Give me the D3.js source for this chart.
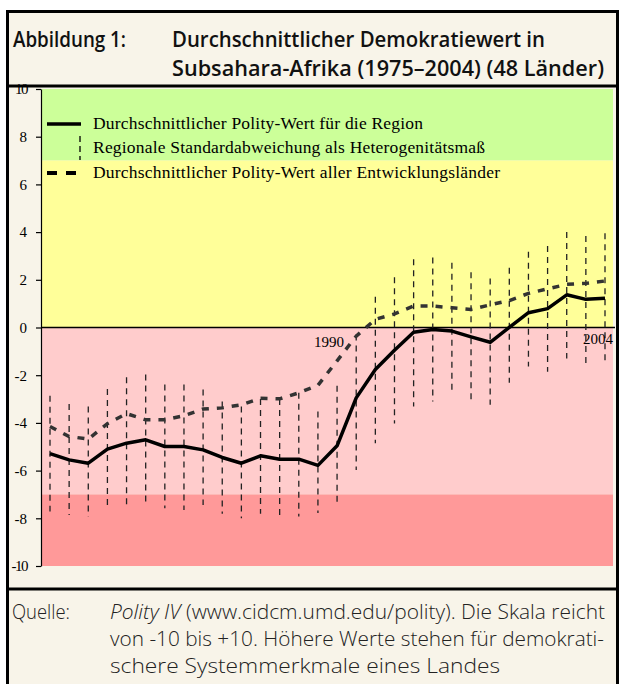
<!DOCTYPE html>
<html>
<head>
<meta charset="utf-8">
<script src="https://cdn.jsdelivr.net/npm/d3@7/dist/d3.min.js"></script>
<style>
  body { margin: 0; background: #fff; }
  svg { display: block; }
</style>
</head>
<body>
<div id="chart"></div>
<script>
// years 1975 - 2004
var years = d3.range(1975, 2005);

// average polity score, sub-saharan africa (solid line)
var regionAvg = [-5.29, -5.55, -5.69, -5.10, -4.85, -4.71, -4.99, -4.99, -5.13, -5.45,
  -5.69, -5.38, -5.52, -5.52, -5.78, -4.96, -2.95, -1.76, -0.95, -0.20,
  -0.08, -0.15, -0.39, -0.62, 0.01, 0.62, 0.79, 1.37, 1.18, 1.23];

// average polity score, all developing countries (dashed line)
var devAvg = [-4.15, -4.57, -4.68, -4.03, -3.61, -3.87, -3.87, -3.70, -3.42, -3.37,
  -3.24, -2.97, -2.99, -2.74, -2.42, -1.40, -0.36, 0.34, 0.57, 0.90,
  0.90, 0.83, 0.76, 0.95, 1.13, 1.43, 1.62, 1.81, 1.85, 1.95];

// std deviation whiskers, upper and lower ends
var sdTop = [-2.86, -3.21, -3.31, -2.58, -2.09, -1.97, -2.39, -2.39, -2.60, -3.10,
  -3.31, -3.00, -3.00, -2.74, -3.52, -2.44, -0.29, 1.29, 2.11, 2.86,
  2.93, 2.72, 2.32, 2.05, 2.51, 3.18, 3.42, 4.00, 3.84, 3.95];
var sdBottom = [-7.72, -7.86, -7.93, -7.46, -7.61, -7.46, -7.58, -7.65, -7.44, -7.81,
  -8.00, -7.81, -7.92, -7.92, -7.78, -7.34, -5.97, -4.85, -4.03, -3.31,
  -3.10, -2.77, -3.16, -3.24, -2.32, -1.63, -1.86, -1.30, -1.58, -1.46];

// background bands
var bands = [
  { from: 7, to: 10, color: '#ccff99' },
  { from: 0, to: 7, color: '#ffff99' },
  { from: -7, to: 0, color: '#ffcccc' },
  { from: -10, to: -7, color: '#ff9999' }
];
var yTicks = [-10, -8, -6, -4, -2, 0, 2, 4, 6, 8, 10];

var legendItems = [
  'Durchschnittlicher Polity-Wert für die Region',
  'Regionale Standardabweichung als Heterogenitätsmaß',
  'Durchschnittlicher Polity-Wert aller Entwicklungsländer'
];

var width = 621, height = 684;
var bg = '#f8f4e9';
var serif = '"Liberation Serif", "Times New Roman", serif';
var sans = '"Open Sans", "Noto Sans", sans-serif';

var svg = d3.select('#chart')
  .append('svg')
  .attr('width', width)
  .attr('height', height);

svg.append('rect')
  .attr('width', width).attr('height', height)
  .attr('fill', '#fff');

svg.append('rect')
  .attr('x', 6).attr('y', 10)
  .attr('width', 612).attr('height', 690)
  .attr('fill', bg);

var x = d3.scaleLinear().domain([1975, 2004]).range([50, 605]);
var y = d3.scaleLinear().domain([-10, 10]).range([566, 89]);
var plotLeft = 41, plotRight = 613;

// bands
svg.selectAll('.band')
  .data(bands)
  .enter()
  .append('rect')
  .attr('class', 'band')
  .attr('x', plotLeft)
  .attr('width', plotRight - plotLeft)
  .attr('y', function(d) { return y(d.to); })
  .attr('height', function(d) { return y(d.from) - y(d.to); })
  .attr('fill', function(d) { return d.color; });

// zero line
svg.append('line')
  .attr('x1', plotLeft).attr('x2', 615)
  .attr('y1', y(0)).attr('y2', y(0))
  .attr('stroke', '#000').attr('stroke-width', 1.5);

// y axis
var yAxis = d3.axisLeft(y)
  .tickValues(yTicks)
  .tickFormat(function(d) { return String(d); })
  .tickSize(5)
  .tickSizeOuter(0)
  .tickPadding(9);

var gy = svg.append('g')
  .attr('transform', 'translate(' + plotLeft + ',0)')
  .call(yAxis);
gy.select('.domain').attr('stroke', '#000').attr('stroke-width', 1.2);
gy.selectAll('.tick line').attr('stroke', '#000').attr('stroke-width', 1.2);
gy.selectAll('.tick text')
  .attr('font-family', serif)
  .attr('font-size', 15)
  .attr('fill', '#000')
  .attr('letter-spacing', function(d) { return Math.abs(d) == 10 ? -1.5 : 0; });

// std deviation whiskers
svg.selectAll('.whisker')
  .data(years)
  .enter()
  .append('line')
  .attr('class', 'whisker')
  .attr('x1', function(d) { return x(d); })
  .attr('x2', function(d) { return x(d); })
  .attr('y1', function(d, i) { return y(sdTop[i]); })
  .attr('y2', function(d, i) { return y(sdBottom[i]); })
  .attr('stroke', '#222')
  .attr('stroke-width', 1.3)
  .attr('stroke-dasharray', '6,5');

var line = d3.line()
  .x(function(d) { return x(d[0]); })
  .y(function(d) { return y(d[1]); });

// developing countries (dashed)
svg.append('path')
  .datum(d3.zip(years, devAvg))
  .attr('d', line)
  .attr('fill', 'none')
  .attr('stroke', '#333')
  .attr('stroke-width', 3.5)
  .attr('stroke-dasharray', '7,8');

// region average (solid)
svg.append('path')
  .datum(d3.zip(years, regionAvg))
  .attr('d', line)
  .attr('fill', 'none')
  .attr('stroke', '#000')
  .attr('stroke-width', 3.5)
  .attr('stroke-linejoin', 'round');

// year labels
svg.append('text')
  .attr('x', 314).attr('y', 347)
  .attr('font-family', serif).attr('font-size', 15)
  .text('1990');
svg.append('text')
  .attr('x', 613).attr('y', 344)
  .attr('text-anchor', 'end')
  .attr('font-family', serif).attr('font-size', 15)
  .text('2004');

// legend
var legend = svg.append('g');
legend.append('line')
  .attr('x1', 47).attr('x2', 81).attr('y1', 124).attr('y2', 124)
  .attr('stroke', '#000').attr('stroke-width', 3.5);
legend.append('line')
  .attr('x1', 80).attr('x2', 80).attr('y1', 136).attr('y2', 160)
  .attr('stroke', '#000').attr('stroke-width', 1.3)
  .attr('stroke-dasharray', '6,4');
legend.append('line')
  .attr('x1', 47).attr('x2', 77).attr('y1', 173).attr('y2', 173)
  .attr('stroke', '#000').attr('stroke-width', 4)
  .attr('stroke-dasharray', '10,9');
legend.selectAll('text')
  .data(legendItems)
  .enter()
  .append('text')
  .attr('x', 93)
  .attr('y', function(d, i) { return [129, 153, 178][i]; })
  .attr('font-family', serif)
  .attr('font-size', 17.5)
  .attr('fill', '#000')
  .attr('textLength', function(d, i) { return [330, 392, 407][i]; })
  .attr('lengthAdjust', 'spacing')
  .text(function(d) { return d; });

// title
var title = svg.append('g')
  .attr('font-family', sans)
  .attr('font-weight', 600)
  .attr('font-size', 22)
  .attr('fill', '#111');
title.append('text').attr('x', 13).attr('y', 47)
  .attr('textLength', 113).attr('lengthAdjust', 'spacingAndGlyphs')
  .text('Abbildung 1:');
title.append('text').attr('x', 172).attr('y', 47)
  .attr('textLength', 373).attr('lengthAdjust', 'spacingAndGlyphs')
  .text('Durchschnittlicher Demokratiewert in');
title.append('text').attr('x', 172).attr('y', 76)
  .attr('textLength', 432).attr('lengthAdjust', 'spacingAndGlyphs')
  .text('Subsahara-Afrika (1975–2004) (48 Länder)');

// caption
var cap = svg.append('g')
  .attr('font-family', sans)
  .attr('font-weight', 300)
  .attr('font-size', 20.5)
  .attr('fill', '#222');
cap.append('text').attr('x', 12).attr('y', 619)
  .attr('textLength', 58).attr('lengthAdjust', 'spacingAndGlyphs')
  .text('Quelle:');
var c1 = cap.append('text').attr('x', 110).attr('y', 619)
  .attr('textLength', 495).attr('lengthAdjust', 'spacingAndGlyphs');
c1.append('tspan').attr('font-style', 'italic').text('Polity IV');
c1.append('tspan').text(' (www.cidcm.umd.edu/polity). Die Skala reicht');
cap.append('text').attr('x', 110).attr('y', 646)
  .attr('textLength', 494).attr('lengthAdjust', 'spacingAndGlyphs')
  .text('von -10 bis +10. Höhere Werte stehen für demokrati-');
cap.append('text').attr('x', 110).attr('y', 673)
  .attr('textLength', 390).attr('lengthAdjust', 'spacingAndGlyphs')
  .text('schere Systemmerkmale eines Landes');

// frame lines
var frame = svg.append('g').attr('stroke', '#000').attr('stroke-width', 3).attr('fill', 'none');
frame.append('path').attr('d', 'M7.5,690 V11.5 H617.5 V690');
frame.append('line').attr('x1', 6).attr('x2', 619).attr('y1', 86).attr('y2', 86);
frame.append('line').attr('x1', 6).attr('x2', 619).attr('y1', 589).attr('y2', 589);
</script>
</body>
</html>
